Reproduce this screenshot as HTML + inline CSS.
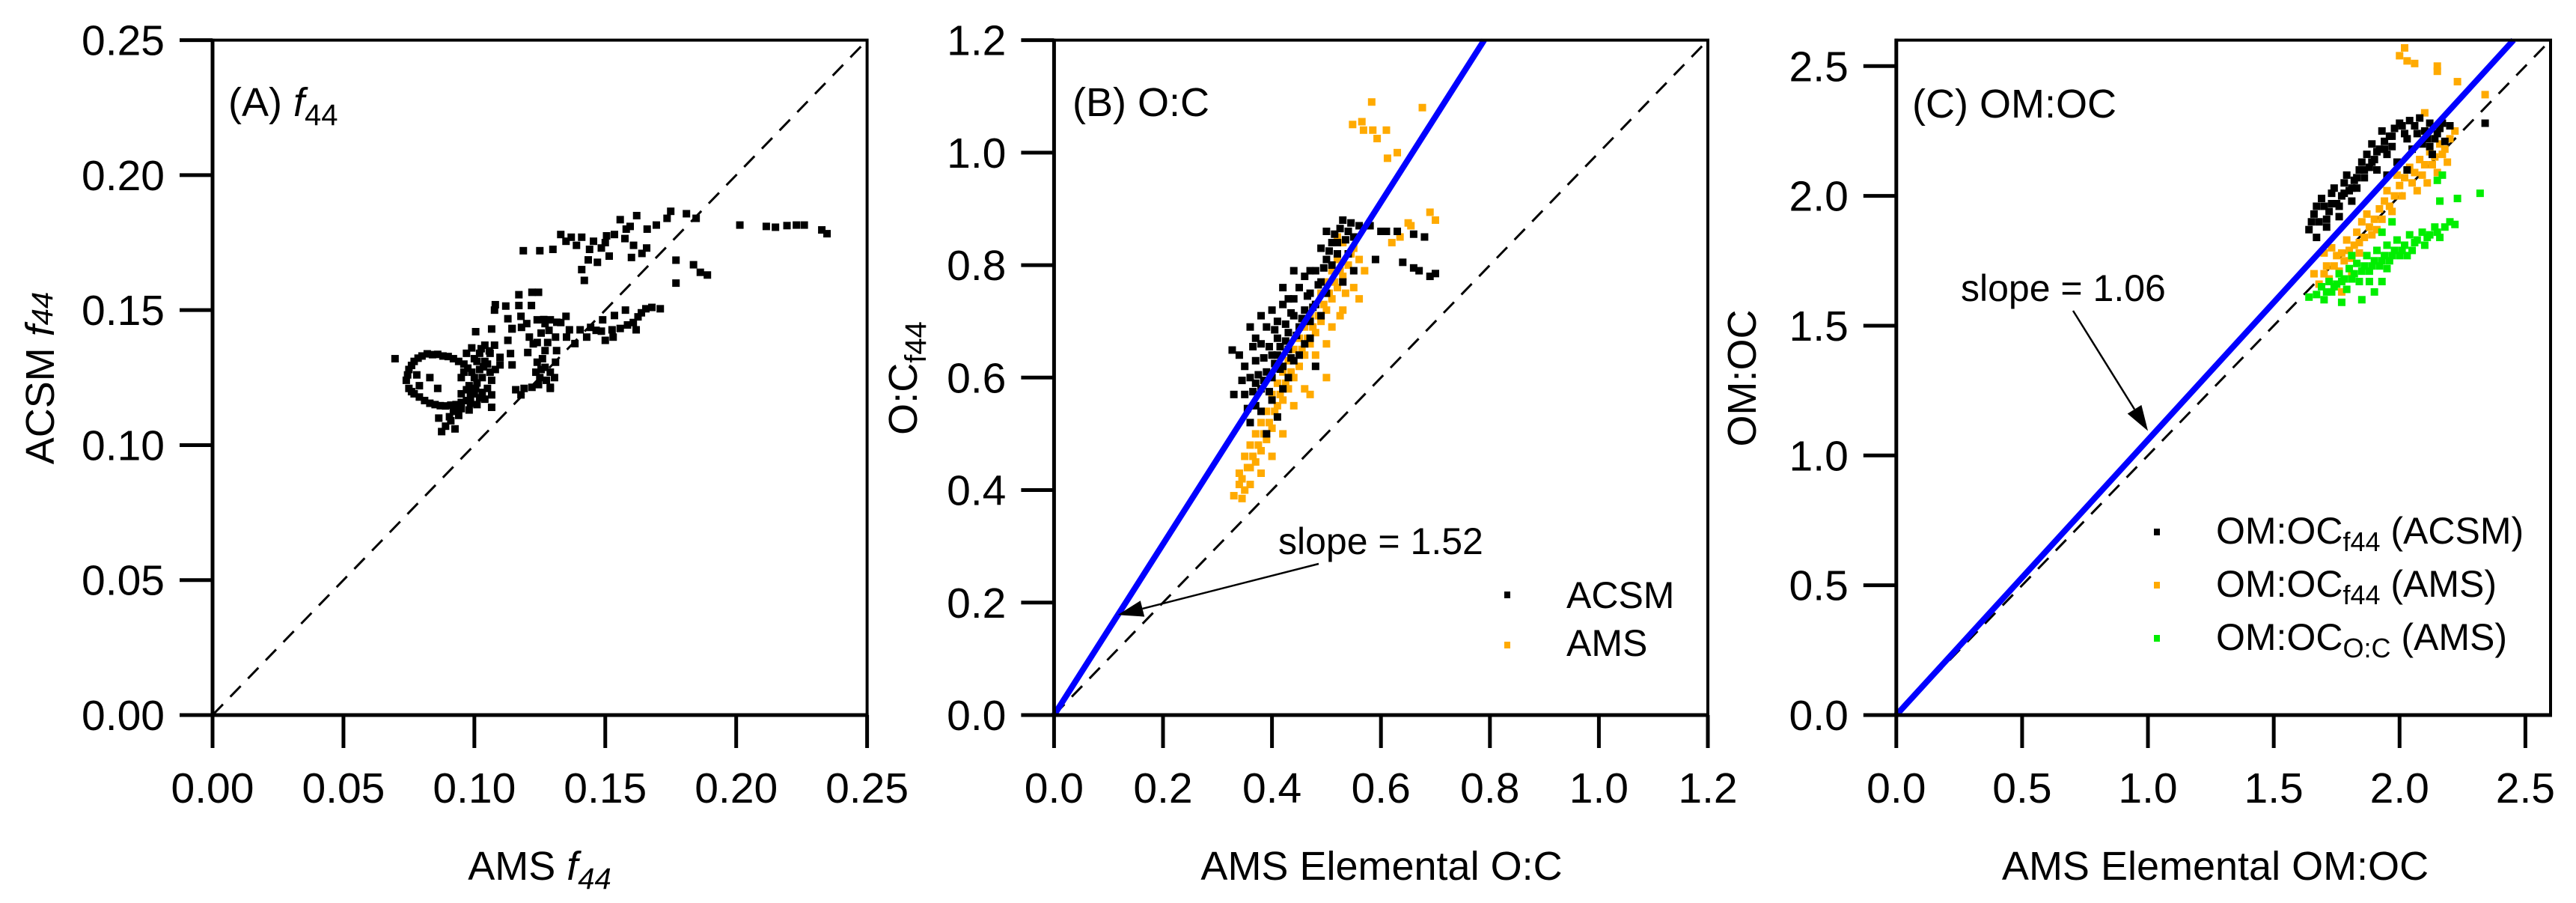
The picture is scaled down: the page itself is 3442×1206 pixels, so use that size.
<!DOCTYPE html>
<html><head><meta charset="utf-8"><style>
html,body{margin:0;padding:0;background:#fff;}
svg{display:block;font-family:"Liberation Sans",Arial,sans-serif;}
</style></head><body>
<svg id="chart" width="3442" height="1206" viewBox="0 0 3442 1206" xmlns="http://www.w3.org/2000/svg">
<rect width="3442" height="1206" fill="#fff"/>
</svg>
<script>
// ---------- data ----------
const ticksA = [0, 0.05, 0.10, 0.15, 0.20, 0.25];
const tickLabelsA = ["0.00","0.05","0.10","0.15","0.20","0.25"];
const ticksB = [0, 0.2, 0.4, 0.6, 0.8, 1.0, 1.2];
const tickLabelsB = ["0.0","0.2","0.4","0.6","0.8","1.0","1.2"];
const ticksC = [0, 0.5, 1.0, 1.5, 2.0, 2.5];
const tickLabelsC = ["0.0","0.5","1.0","1.5","2.0","2.5"];
const slopeB = 1.52;
const slopeC = 1.06;

const acsmA = [
[0.074,0.124],[0.075,0.128],[0.077,0.131],[0.080,0.133],[0.084,0.1335],[0.088,0.133],[0.092,0.132],[0.096,0.130],[0.099,0.127],[0.101,0.123],[0.100,0.119],[0.097,0.1165],[0.093,0.115],[0.089,0.1145],[0.085,0.115],[0.081,0.1165],[0.077,0.119],[0.075,0.121],
[0.095,0.125],[0.098,0.122],[0.102,0.128],[0.104,0.131],[0.103,0.125],[0.105,0.121],[0.102,0.134],[0.099,0.136],[0.100,0.132],[0.097,0.134],[0.106,0.127],[0.104,0.117],[0.101,0.115],[0.098,0.113],[0.094,0.111],[0.091,0.109],[0.089,0.107],[0.0875,0.105],[0.093,0.113],[0.095,0.119],[0.086,0.121],[0.083,0.125],[0.106,0.134],[0.104,0.137],[0.0697,0.132],[0.0864,0.110],[0.0926,0.106],[0.078,0.126],[0.079,0.122],
[0.076,0.1295],[0.0785,0.1322],[0.082,0.1338],[0.086,0.1336],[0.090,0.1328],[0.094,0.131],[0.0975,0.1285],[0.100,0.125],[0.1005,0.121],[0.0985,0.1178],[0.095,0.1158],[0.091,0.1148],[0.087,0.1146],[0.083,0.1155],[0.079,0.1178],[0.076,0.1198],[0.0745,0.126],[0.097,0.1205],[0.099,0.1195],[0.103,0.1195],[0.1035,0.129],[0.101,0.131],[0.096,0.127],[0.092,0.1125],[0.0905,0.1105],[0.095,0.1135],[0.0985,0.1155],[0.102,0.1175],
[0.1005,0.142],[0.1066,0.143],[0.1128,0.1388],[0.1144,0.143],[0.1077,0.137],[0.1057,0.1349],[0.1026,0.1357],[0.1098,0.1325],[0.1138,0.1339],[0.1144,0.1297],[0.1098,0.1297],[0.1066,0.124],[0.1066,0.1186],[0.1066,0.114],[0.108,0.128],[0.105,0.130],
[0.121,0.140],[0.1204,0.1343],[0.124,0.138],[0.124,0.1307],[0.125,0.125],[0.1245,0.1224],[0.127,0.135],[0.127,0.1288],[0.129,0.127],[0.131,0.140],[0.131,0.1307],[0.1306,0.125],[0.129,0.1214],[0.1314,0.135],[0.1158,0.1205],[0.119,0.121],[0.122,0.1214],[0.1178,0.1186],[0.129,0.121],[0.126,0.132],[0.128,0.138],
[0.1225,0.1375],[0.1255,0.1415],[0.1285,0.1425],[0.1255,0.128],[0.1275,0.124],[0.1235,0.127],
[0.117,0.1557],[0.122,0.1566],[0.1245,0.1566],[0.108,0.152],[0.112,0.1515],[0.117,0.1517],[0.1218,0.1517],[0.1077,0.150],[0.1128,0.1468],[0.1178,0.1477],[0.1144,0.1432],[0.118,0.1436],[0.124,0.1464],[0.129,0.1464],[0.133,0.1454],[0.135,0.1477],[0.1363,0.1427],[0.1404,0.1427],[0.1444,0.1436],[0.1485,0.1422],[0.1526,0.1427],[0.1557,0.1432],[0.1577,0.150],[0.1535,0.148],[0.149,0.1464],[0.1607,0.1454],[0.1638,0.149],[0.1678,0.151],[0.171,0.1505],[0.1618,0.1427],[0.1429,0.140],[0.150,0.1388],[0.153,0.140],[0.1384,0.1376],[0.1352,0.140],[0.127,0.145],[0.120,0.145],
[0.1265,0.1465],[0.1315,0.1455],[0.1585,0.1445],[0.1625,0.1475],[0.1655,0.1505],[0.1465,0.1425],
[0.1187,0.172],[0.125,0.172],[0.130,0.1725],[0.133,0.178],[0.137,0.177],[0.141,0.177],[0.1455,0.1755],[0.1485,0.173],[0.1515,0.170],[0.1435,0.1686],[0.141,0.165],[0.142,0.161],[0.147,0.1677],[0.1535,0.178],[0.1557,0.1835],[0.162,0.185],[0.166,0.180],[0.1608,0.174],[0.164,0.171],[0.1658,0.173],[0.160,0.1695],[0.1695,0.1815],[0.1736,0.184],[0.175,0.1866],[0.181,0.1857],[0.1847,0.184],[0.177,0.1685],[0.1837,0.1668],[0.1863,0.164],[0.189,0.163],[0.177,0.160],[0.139,0.174],[0.150,0.175],[0.158,0.180],
[0.135,0.1755],[0.144,0.1725],[0.1575,0.1765],[0.1595,0.181],[0.1505,0.1775],
[0.2014,0.1815],[0.2115,0.181],[0.215,0.1807],[0.2194,0.1813],[0.223,0.1815],[0.226,0.1815],[0.2327,0.1797],[0.2347,0.1783]
];

const acsmB = [
[0.36,0.52],[0.37,0.55],[0.35,0.57],[0.38,0.58],[0.36,0.60],[0.39,0.61],[0.37,0.63],[0.40,0.60],[0.38,0.66],[0.40,0.64],[0.41,0.67],[0.39,0.69],[0.42,0.62],[0.43,0.65],[0.41,0.70],[0.43,0.68],[0.44,0.71],[0.42,0.73],[0.45,0.69],[0.44,0.74],[0.46,0.72],[0.47,0.70],[0.45,0.76],[0.47,0.75],[0.48,0.73],[0.46,0.78],[0.48,0.79],[0.49,0.77],[0.50,0.81],[0.49,0.83],[0.51,0.80],[0.52,0.84],[0.50,0.86],[0.53,0.88],[0.54,0.86],[0.55,0.85],[0.52,0.82],[0.54,0.82],[0.56,0.87],[0.55,0.79],[0.53,0.77],[0.50,0.75],[0.49,0.71],[0.46,0.66],[0.44,0.63],[0.42,0.58],[0.40,0.56],[0.38,0.54],[0.39,0.50],[0.41,0.53],[0.43,0.60],[0.45,0.64],[0.47,0.67],[0.48,0.62],[0.37,0.67],[0.35,0.62],[0.34,0.64],[0.36,0.69],[0.38,0.71],[0.40,0.72],[0.42,0.76],[0.44,0.79],[0.51,0.84],[0.47,0.79],[0.43,0.74],[0.41,0.64],[0.37,0.59],[0.33,0.57],[0.327,0.649],
[0.365,0.575],[0.375,0.605],[0.385,0.635],[0.395,0.655],[0.405,0.685],[0.415,0.655],[0.425,0.695],[0.435,0.715],[0.405,0.625],[0.385,0.595],[0.395,0.575],[0.415,0.615],[0.445,0.675],[0.455,0.705],[0.465,0.745],[0.475,0.725],[0.485,0.765],[0.495,0.795],[0.505,0.825],[0.515,0.855],[0.525,0.865],[0.535,0.845],[0.545,0.875],[0.355,0.545],[0.345,0.595],[0.365,0.655],[0.425,0.665],[0.435,0.635],
[0.58,0.87],[0.60,0.86],[0.61,0.86],[0.63,0.86],[0.66,0.855],[0.68,0.85],[0.59,0.81],[0.64,0.805],[0.66,0.795],[0.67,0.79],[0.69,0.78],[0.70,0.785]
];

const amsB = [
[0.33,0.39],[0.34,0.41],[0.35,0.40],[0.34,0.43],[0.36,0.44],[0.35,0.46],[0.37,0.45],[0.36,0.48],[0.38,0.47],[0.37,0.50],[0.39,0.49],[0.38,0.52],[0.40,0.51],[0.39,0.54],[0.41,0.55],[0.40,0.57],[0.42,0.56],[0.41,0.59],[0.43,0.58],[0.42,0.61],[0.44,0.60],[0.43,0.63],[0.45,0.62],[0.44,0.65],[0.46,0.64],[0.45,0.67],[0.47,0.66],[0.46,0.69],[0.48,0.68],[0.47,0.71],[0.49,0.70],[0.48,0.73],[0.50,0.72],[0.49,0.75],[0.51,0.74],[0.50,0.77],[0.52,0.76],[0.51,0.79],[0.53,0.78],[0.52,0.81],[0.54,0.80],[0.55,0.83],[0.56,0.81],[0.53,0.84],[0.55,0.76],[0.53,0.72],[0.51,0.69],[0.50,0.66],[0.48,0.64],[0.46,0.58],[0.44,0.55],[0.42,0.50],[0.40,0.46],[0.38,0.43],[0.36,0.41],[0.345,0.385],[0.47,0.57],[0.57,0.79],[0.56,0.74],[0.50,0.60],[0.52,0.85],
[0.345,0.42],[0.355,0.44],[0.365,0.46],[0.375,0.48],[0.385,0.50],[0.395,0.52],[0.405,0.54],[0.415,0.57],[0.425,0.59],[0.435,0.61],[0.455,0.65],[0.465,0.67],[0.475,0.69],[0.485,0.71],[0.495,0.73],[0.505,0.75],[0.515,0.77],[0.525,0.79],[0.545,0.82],[0.535,0.75],[0.525,0.71],
[0.583,1.09],[0.676,1.08],[0.548,1.05],[0.565,1.055],[0.568,1.04],[0.585,1.04],[0.593,1.025],[0.61,1.04],[0.63,1.0],[0.612,0.99],[0.69,0.894],[0.70,0.88],[0.65,0.875],[0.635,0.85],[0.62,0.84],[0.655,0.87]
];

const acsmC = [
[1.64,1.87],[1.66,1.93],[1.68,1.90],[1.70,1.96],[1.69,1.99],[1.72,1.94],[1.73,2.01],[1.75,1.97],[1.74,2.03],[1.77,2.00],[1.78,2.05],[1.76,1.92],[1.80,2.02],[1.79,2.08],[1.82,2.06],[1.81,1.98],[1.84,2.10],[1.83,2.03],[1.86,2.07],[1.85,2.13],[1.88,2.11],[1.87,2.16],[1.90,2.14],[1.89,2.20],[1.92,2.18],[1.91,2.10],[1.94,2.21],[1.93,2.25],[1.96,2.23],[1.95,2.16],[1.98,2.26],[1.97,2.19],[2.00,2.28],[2.02,2.24],[2.04,2.29],[2.06,2.27],[2.08,2.30],[2.10,2.25],[2.12,2.28],[2.14,2.22],[2.16,2.26],[2.18,2.21],[2.20,2.27],[2.05,2.18],[2.09,2.20],[2.13,2.16],[2.34,2.28],[1.71,1.88],[1.67,1.84],[2.03,2.10],[1.99,2.13],[1.95,2.08],
[1.65,1.90],[1.67,1.96],[1.71,1.91],[1.73,1.97],[1.76,1.96],[1.78,2.01],[1.81,2.03],[1.83,2.07],[1.86,2.10],[1.89,2.13],[1.91,2.17],[1.94,2.18],[1.97,2.23],[2.01,2.27],[2.03,2.22],[2.07,2.24],[2.11,2.22],[2.15,2.24],[2.17,2.28],[2.12,2.19]
];

const amsC = [
[1.68,1.66],[1.70,1.70],[1.72,1.68],[1.74,1.73],[1.76,1.71],[1.75,1.77],[1.78,1.75],[1.80,1.79],[1.79,1.83],[1.82,1.81],[1.84,1.78],[1.83,1.86],[1.86,1.84],[1.85,1.90],[1.88,1.88],[1.87,1.93],[1.90,1.91],[1.92,1.95],[1.91,1.87],[1.94,1.98],[1.96,1.96],[1.95,2.02],[1.98,2.00],[2.00,2.04],[1.99,2.08],[2.02,2.07],[2.04,2.11],[2.06,2.09],[2.08,2.14],[2.10,2.12],[2.12,2.17],[2.14,2.15],[2.16,2.20],[2.18,2.18],[2.20,2.22],[2.19,2.13],[2.15,2.09],[2.11,2.05],[2.07,2.02],[2.22,2.25],[1.77,1.63],[1.81,1.70],[1.73,1.80],[1.70,1.78],
[1.71,1.73],[1.77,1.78],[1.81,1.76],[1.84,1.82],[1.89,1.85],[1.93,1.91],[1.97,1.94],[2.01,2.00],[2.05,2.05],[2.09,2.08],[2.13,2.12],[2.17,2.16],[1.66,1.70],
[2.02,2.57],[2.00,2.54],[2.03,2.52],[2.06,2.51],[2.15,2.50],[2.15,2.48],[2.23,2.44],[2.34,2.39],[2.10,2.32]
];

const oocC = [
[1.64,1.61],[1.67,1.62],[1.69,1.65],[1.70,1.60],[1.72,1.67],[1.73,1.63],[1.75,1.66],[1.76,1.70],[1.78,1.68],[1.79,1.64],[1.80,1.72],[1.82,1.70],[1.83,1.74],[1.84,1.67],[1.86,1.73],[1.87,1.77],[1.88,1.71],[1.90,1.75],[1.91,1.79],[1.92,1.73],[1.94,1.77],[1.95,1.81],[1.96,1.75],[1.98,1.79],[1.99,1.83],[2.00,1.77],[2.02,1.81],[2.04,1.85],[2.05,1.79],[2.07,1.83],[2.09,1.86],[2.10,1.81],[2.12,1.85],[2.14,1.88],[2.16,1.84],[2.18,1.88],[2.20,1.90],[2.22,1.89],[1.85,1.60],[1.90,1.63],[1.93,1.67],[2.32,2.01],[2.23,1.99],[2.17,2.08],[2.15,2.06],[2.16,1.98],[1.97,1.90],[1.93,1.86],[1.77,1.59],[1.81,1.77],
[1.71,1.63],[1.74,1.65],[1.77,1.67],[1.81,1.68],[1.85,1.71],[1.89,1.73],[1.93,1.75],[1.97,1.77],[2.01,1.79],[2.06,1.82],[2.11,1.84],[2.15,1.86],[1.88,1.67],[1.95,1.72],[2.03,1.77]
];

// ---------- drawing ----------
const NS = "http://www.w3.org/2000/svg";
const svg = document.getElementById("chart");
function mk(tag, attrs, parent) {
  const e = document.createElementNS(NS, tag);
  for (const k in attrs) e.setAttribute(k, attrs[k]);
  (parent || svg).appendChild(e);
  return e;
}
const TOP = 53.6, BOT = 955;

function panel(id, x0, x1, xmax, ymax) {
  const g = mk("g", {});
  
  
  const sx = v => x0 + v / xmax * (x1 - x0);
  const sy = v => BOT - v / ymax * (BOT - TOP);
  return {g, sx, sy, x0, x1, id};
}

function frame(p) {
  const ax = mk("g", {}, p.g);
  
  
  mk("rect", {x:p.x0, y:TOP, width:p.x1-p.x0, height:BOT-TOP, fill:"none", stroke:"#000", "stroke-width":4}, ax);
  mk("line", {x1:p.x0, y1:TOP-2, x2:p.x0, y2:BOT+2, stroke:"#000", "stroke-width":5}, ax);
  mk("line", {x1:p.x0-2, y1:BOT, x2:p.x1+2, y2:BOT, stroke:"#000", "stroke-width":5}, ax);
}
function ticksDraw(p, xt, xl, yt, yl) {
  xt.forEach((v, i) => {
    const x = p.sx(v);
    const t = mk("line", {x1:x, y1:BOT, x2:x, y2:BOT+44, stroke:"#000", "stroke-width":5}, p.g);
    
    
    const tx = mk("text", {x:x, y:1072, "font-size":57, "text-anchor":"middle"}, p.g);
    tx.textContent = xl[i];
    
    
  });
  yt.forEach((v, i) => {
    const y = p.sy(v);
    const t = mk("line", {x1:p.x0-44, y1:y, x2:p.x0, y2:y, stroke:"#000", "stroke-width":5}, p.g);
    
    
    const tx = mk("text", {x:p.x0-64, y:y+20, "font-size":57, "text-anchor":"end"}, p.g);
    tx.textContent = yl[i];
    
    
  });
}
function oneToOne(p, m) {
  const l = mk("line", {x1:p.sx(0), y1:p.sy(0), x2:p.sx(m), y2:p.sy(m), stroke:"#000", "stroke-width":3, "stroke-dasharray":"20 14"}, p.g);
  
  
}
function fitLine(p, slope, ymax) {
  const xe = ymax / slope;
  const l = mk("line", {x1:p.sx(0), y1:p.sy(0), x2:p.sx(xe), y2:p.sy(ymax), stroke:"#0000ff", "stroke-width":8}, p.g);
  
  
}
function scatter(p, data, color, name) {
  const g = mk("g", {fill:color}, p.g);
  
  
  data.forEach(d => {
    const r = mk("rect", {x:p.sx(d[0])-5, y:p.sy(d[1])-5, width:10, height:10}, g);
    
    
  });
}
function txt(parent, x, y, size, html, name, extra) {
  const t = mk("text", Object.assign({x:x, y:y, "font-size":size}, extra || {}), parent);
  t.innerHTML = html;
  
  
  return t;
}
function arrow(parent, x1, y1, x2, y2, name) {
  const g = mk("g", {}, parent);
  
  
  const ang = Math.atan2(y2 - y1, x2 - x1);
  const L = 34, W = 11;
  const bx = x2 - L * Math.cos(ang), by = y2 - L * Math.sin(ang);
  mk("line", {x1:x1, y1:y1, x2:bx, y2:by, stroke:"#000", "stroke-width":2.5}, g);
  const px = -Math.sin(ang) * W, py = Math.cos(ang) * W;
  mk("polygon", {points:`${x2},${y2} ${bx+px},${by+py} ${bx-px},${by-py}`, fill:"#000"}, g);
}

// Panel A
const A = panel("panel-a", 284, 1158.6, 0.25, 0.25);
oneToOne(A, 0.25);
scatter(A, acsmA, "#000", "acsm-f44-points");
frame(A);
ticksDraw(A, ticksA, tickLabelsA, ticksA, tickLabelsA);
txt(A.g, 305, 155, 54, '(A) <tspan font-style="italic">f</tspan><tspan font-size="40" dy="12">44</tspan>', "panel-a-title");
txt(A.g, 721, 1175, 54, 'AMS <tspan font-style="italic">f</tspan><tspan font-size="40" dy="12" font-style="italic">44</tspan>', "panel-a-x-axis-title", {"text-anchor":"middle"});
txt(A.g, 0, 0, 54, 'ACSM <tspan font-style="italic">f</tspan><tspan font-size="40" dy="-2" font-style="italic">44</tspan>', "panel-a-y-axis-title", {"text-anchor":"middle", transform:"translate(72,505) rotate(-90)"});

// Panel B
const B = panel("panel-b", 1408.4, 2282, 1.2, 1.2);
oneToOne(B, 1.2);
scatter(B, amsB, "#ffaa00", "ams-oc-points");
scatter(B, acsmB, "#000", "acsm-oc-points");
fitLine(B, slopeB, 1.2);
frame(B);
ticksDraw(B, ticksB, tickLabelsB, ticksB, tickLabelsB);
txt(B.g, 1433, 155, 54, '(B) O:C', "panel-b-title");
txt(B.g, 1708, 740, 50, 'slope = 1.52', "panel-b-slope-label");
arrow(B.g, 1762, 753, B.sx(0.117), B.sy(0.178), "panel-b-slope-arrow");
const lgB = mk("g", {}, B.g);


mk("rect", {x:2010, y:790, width:8, height:9, fill:"#000"}, lgB);
mk("rect", {x:2010, y:857, width:8, height:9, fill:"#ffaa00"}, lgB);
txt(lgB, 2093, 812, 50, 'ACSM', "legend-acsm");
txt(lgB, 2093, 876, 50, 'AMS', "legend-ams");
txt(B.g, 1846, 1175, 54, 'AMS Elemental O:C', "panel-b-x-axis-title", {"text-anchor":"middle"});
txt(B.g, 0, 0, 54, 'O:C<tspan font-size="40" dy="12">f44</tspan>', "panel-b-y-axis-title", {"text-anchor":"middle", transform:"translate(1225,505) rotate(-90)"});

// Panel C
const C = panel("panel-c", 2533.8, 3408, 2.6, 2.6);
oneToOne(C, 2.6);
scatter(C, amsC, "#ffaa00", "ams-omoc-f44-points");
scatter(C, acsmC, "#000", "acsm-omoc-f44-points");
scatter(C, oocC, "#00ee00", "ams-omoc-oc-points");
fitLine(C, slopeC, 2.6);
frame(C);
ticksDraw(C, ticksC, tickLabelsC, ticksC, tickLabelsC);
txt(C.g, 2555, 157, 54, '(C) OM:OC', "panel-c-title");
txt(C.g, 2620, 402, 50, 'slope = 1.06', "panel-c-slope-label");
arrow(C.g, 2770, 415, C.sx(1.0), C.sy(1.06)-12, "panel-c-slope-arrow");
const lgC = mk("g", {}, C.g);


mk("rect", {x:2878, y:706, width:8, height:9, fill:"#000"}, lgC);
mk("rect", {x:2878, y:777, width:8, height:9, fill:"#ffaa00"}, lgC);
mk("rect", {x:2878, y:848, width:8, height:9, fill:"#00ee00"}, lgC);
txt(lgC, 2961, 726, 50, 'OM:OC<tspan font-size="36" dy="10">f44</tspan><tspan dy="-10"> (ACSM)</tspan>', "legend-omoc-f44-acsm");
txt(lgC, 2961, 797, 50, 'OM:OC<tspan font-size="36" dy="10">f44</tspan><tspan dy="-10"> (AMS)</tspan>', "legend-omoc-f44-ams");
txt(lgC, 2961, 868, 50, 'OM:OC<tspan font-size="36" dy="10">O:C</tspan><tspan dy="-10"> (AMS)</tspan>', "legend-omoc-oc-ams");
txt(C.g, 2960, 1175, 54, 'AMS Elemental OM:OC', "panel-c-x-axis-title", {"text-anchor":"middle"});
txt(C.g, 0, 0, 54, 'OM:OC', "panel-c-y-axis-title", {"text-anchor":"middle", transform:"translate(2346,505) rotate(-90)"});
</script>
</body></html>
